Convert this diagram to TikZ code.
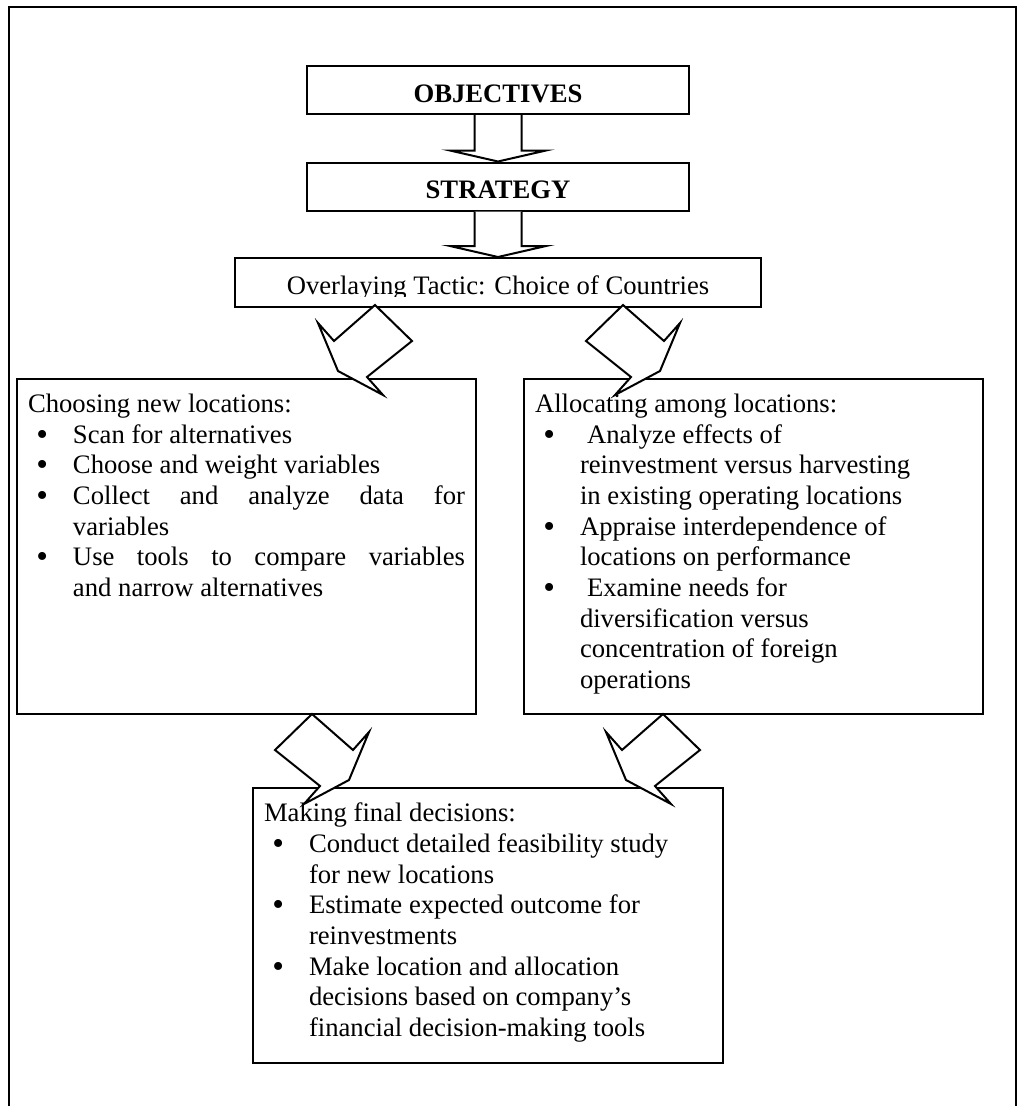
\documentclass[tikz,border=0pt]{standalone}
\usepackage{fontspec}
\usepackage{graphicx}
\setmainfont{Liberation Serif}
\usetikzlibrary{positioning}
\newlength{\px}\setlength{\px}{0.45pt}
\newcommand{\bigdot}{\smash{\raisebox{-0.08em}{\scalebox{1.25}{\textbullet}}}}
\newenvironment{dotlist}{\begin{list}{\bigdot}{%
  \setlength{\leftmargin}{45\px}\setlength{\labelsep}{25\px}%
  \setlength{\labelwidth}{20\px}\setlength{\itemsep}{0pt}%
  \setlength{\parsep}{0pt}\setlength{\topsep}{0pt}\setlength{\partopsep}{0pt}}}%
  {\end{list}}

\begin{document}
\begin{tikzpicture}[x=0.45pt, y=-0.45pt,
    font=\fontsize{12pt}{13.8pt}\selectfont,
    titlebox/.style={draw, line width=0.9pt, minimum width=382\px,
                     minimum height=48\px, inner sep=0pt, text height=24\px, text depth=0pt},
    panel/.style={draw, line width=0.9pt, anchor=north west, inner xsep=11\px, inner ysep=15\px},
    blk/.style={draw, fill=white, line width=0.9pt},
    fatarrow/.pic={\draw[blk] (0,0) -- (37,36) -- (-8,72) -- (8,90) -- (-37,66)
                     -- (-57,18) -- (-41,36) -- cycle;}
  ]
    \useasboundingbox (0,0) rectangle (1017,1106);
    \draw[line width=1pt] (9,1106) -- (9,7) -- (1016,7) -- (1016,1106);

    \node[titlebox] (obj) at (498,90) {\textbf{OBJECTIVES}};
    \node[titlebox] (strat) at (498,186.5) {\textbf{STRATEGY}};
    \node[titlebox, minimum width=526\px, minimum height=49\px] (ovl) at (498,282.5) {};
    \begin{scope}
      \clip (ovl.north west) rectangle ([yshift=12\px]ovl.south east);
      \node[anchor=base] (ovltext) at (498,294) {Overlaying Tactic: Choice of Countries};
    \end{scope}

    \node[panel] (choose) at (16,378) {\begin{minipage}[t][305\px][t]{437\px}
      Choosing new locations:
      \begin{dotlist}
        \item Scan for alternatives
        \item Choose and weight variables
        \item Collect and analyze data for\linebreak variables
        \item Use tools to compare variables\linebreak and narrow alternatives
      \end{dotlist}
    \end{minipage}};
    \node[panel] (alloc) at (523,378) {\begin{minipage}[t][305\px][t]{437\px}\raggedright
      Allocating among locations:
      \begin{dotlist}
        \item \hspace{7\px}Analyze effects of\newline reinvestment versus harvesting\newline in existing operating locations
        \item Appraise interdependence of\newline locations on performance
        \item \hspace{7\px}Examine needs for\newline diversification versus\newline concentration of foreign\newline operations
      \end{dotlist}
    \end{minipage}};
    \node[panel] (decide) at (252,787) {\begin{minipage}[t][245\px][t]{448\px}\raggedright
      Making final decisions:
      \begin{dotlist}
        \item Conduct detailed feasibility study\newline for new locations
        \item Estimate expected outcome for\newline reinvestments
        \item Make location and allocation\newline decisions based on company's\newline financial decision-making tools
      \end{dotlist}
    \end{minipage}};

    % hollow arrows between the title boxes
    \foreach \a/\b in {obj/strat, strat/ovl}
      \draw[blk] ([xshift=-23.5*\px]\a.south) -- ([xshift=-23.5*\px, yshift=11*\px]\b.north)
        -- ([xshift=-48*\px, yshift=11*\px]\b.north) -- (\b.north)
        -- ([xshift=48*\px, yshift=11*\px]\b.north) -- ([xshift=23.5*\px, yshift=11*\px]\b.north)
        -- ([xshift=23.5*\px]\a.south);

    % tilted block arrows
    \path (ovl.south) ++(-123,-3) pic {fatarrow};
    \path (ovl.south) ++(125,-3) pic[xscale=-1] {fatarrow};
    \path (choose.south west) ++(296,-1) pic[xscale=-1] {fatarrow};
    \path (alloc.south west) ++(140,-1) pic {fatarrow};
  \end{tikzpicture}
\end{document}
